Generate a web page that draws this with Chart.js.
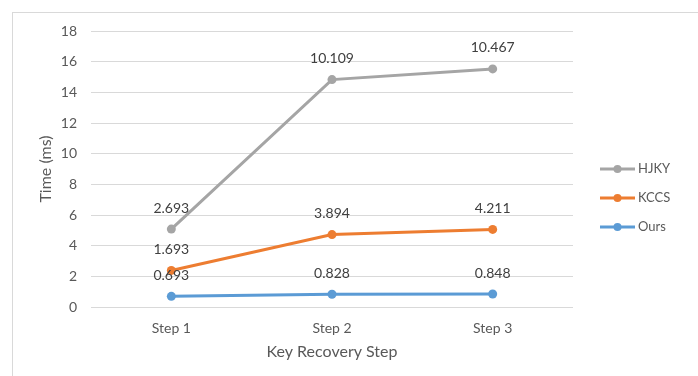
<!DOCTYPE html>
<html>
<head>
<meta charset="utf-8">
<script src="https://cdn.jsdelivr.net/npm/chart.js@4"></script>
<style>
  html, body { margin: 0; padding: 0; background: #fff; }
  #wrap { width: 698px; height: 376px; }
</style>
</head>
<body>
<div id="wrap"><canvas id="myChart"></canvas></div>
<script>
var categories = ['Step 1', 'Step 2', 'Step 3'];
var hjky = [2.693, 10.109, 10.467];
var kccs = [1.693, 3.894, 4.211];
var ours = [0.693, 0.828, 0.848];

var FONT = 'Lato, "Open Sans", sans-serif';

// frame around the chart area, as in the spreadsheet export
var framePlugin = {
	id: 'frame',
	beforeDraw: function (chart) {
		var c = chart.ctx;
		c.save();
		c.fillStyle = '#fff';
		c.fillRect(0, 0, chart.width, chart.height);
		c.strokeStyle = '#d9d9d9';
		c.lineWidth = 1;
		c.strokeRect(12.5, 12.5, chart.width, chart.height);
		c.restore();
	}
};

// value labels above each point (own value, not the stacked sum)
var labelPlugin = {
	id: 'valueLabels',
	afterDatasetsDraw: function (chart) {
		var c = chart.ctx;
		c.save();
		c.font = '14px ' + FONT;
		c.fillStyle = '#404040';
		c.textAlign = 'center';
		c.textBaseline = 'middle';
		chart.data.datasets.forEach(function (ds, i) {
			chart.getDatasetMeta(i).data.forEach(function (pt, j) {
				c.fillText(ds.data[j].toFixed(3), pt.x, pt.y - 21);
			});
		});
		c.restore();
	}
};

// line + marker legend on the right
var legendPlugin = {
	id: 'lineLegend',
	afterDraw: function (chart) {
		var c = chart.ctx;
		var x0 = chart.chartArea.right + 27;
		var y0 = 169;
		var list = chart.data.datasets.slice().reverse();
		c.save();
		c.font = '13px ' + FONT;
		c.textBaseline = 'middle';
		list.forEach(function (ds, i) {
			var y = y0 + i * 29;
			c.strokeStyle = ds.borderColor;
			c.lineWidth = 3;
			c.beginPath();
			c.moveTo(x0, y);
			c.lineTo(x0 + 35, y);
			c.stroke();
			c.fillStyle = ds.borderColor;
			c.beginPath();
			c.arc(x0 + 17.5, y, 4, 0, Math.PI * 2);
			c.fill();
			c.fillStyle = '#595959';
			c.fillText(ds.label, x0 + 38, y);
		});
		c.restore();
	}
};

function line(label, data, color) {
	return {
		label: label,
		data: data,
		borderColor: color,
		backgroundColor: color,
		borderWidth: 3,
		pointRadius: 4.5,
		pointHoverRadius: 4.5,
		pointBorderWidth: 0,
		fill: false,
		tension: 0
	};
}

var ctx = document.getElementById('myChart');
var myChart = new Chart(ctx, {
	type: 'line',
	data: {
		labels: categories,
		datasets: [
			line('Ours', ours, '#5b9bd5'),
			line('KCCS', kccs, '#ed7d31'),
			line('HJKY', hjky, '#a5a5a5')
		]
	},
	plugins: [framePlugin, labelPlugin, legendPlugin],
	options: {
		responsive: true,
		maintainAspectRatio: false,
		animation: false,
		layout: {
			padding: { left: 32, top: 31, right: 125, bottom: 11 }
		},
		plugins: {
			legend: { display: false },
			tooltip: { enabled: false }
		},
		scales: {
			x: {
				offset: true,
				grid: { display: false, drawTicks: false },
				border: { display: false },
				ticks: { color: '#595959', font: { family: FONT, size: 14 }, padding: 13 },
				title: { display: true, text: 'Key Recovery Step', color: '#595959', font: { family: FONT, size: 16 } },
				afterFit: function (s) { s.height = 58; }
			},
			y: {
				stacked: true,
				min: 0,
				max: 18,
				ticks: { stepSize: 2, color: '#595959', font: { family: FONT, size: 14 }, padding: 14 },
				grid: { color: '#d9d9d9', lineWidth: 1, drawTicks: false },
				border: { display: false },
				title: { display: true, text: 'Time (ms)', color: '#595959', font: { family: FONT, size: 16 } },
				afterFit: function (s) { s.width = 59; }
			}
		}
	}
});
</script>
</body>
</html>
